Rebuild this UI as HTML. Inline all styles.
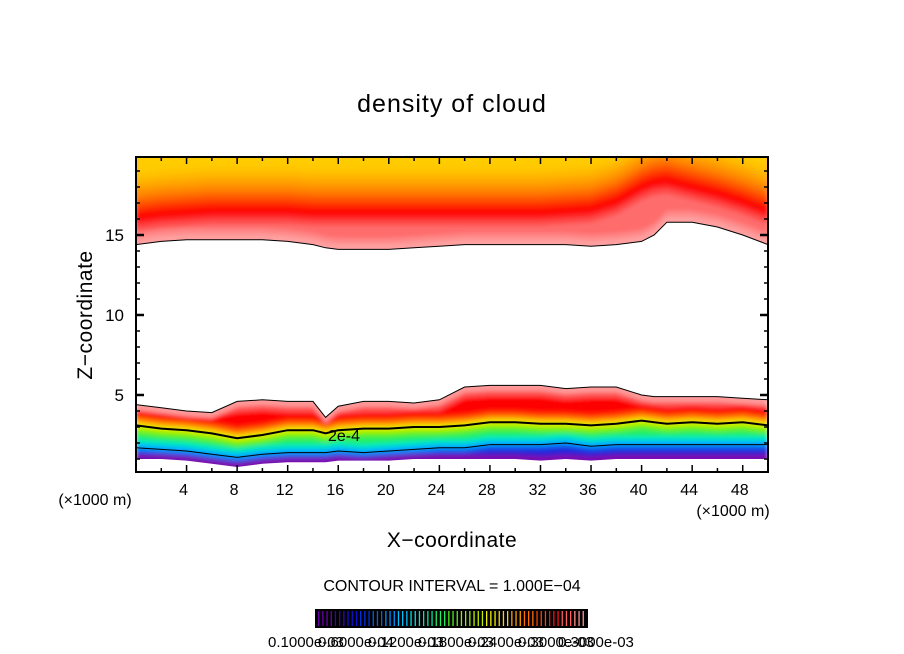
<!DOCTYPE html>
<html><head><meta charset="utf-8"><style>
html,body{margin:0;padding:0;background:#fff}
svg{display:block}
text{font-family:"Liberation Sans",sans-serif;fill:#000}
</style></head><body>
<svg id="chart" width="904" height="654" viewBox="0 0 904 654">
<defs>
<clipPath id="plotclip"><rect x="136" y="157" width="632" height="315"/></clipPath>
<clipPath id="upclip"><polygon id="upclipPoly" points="0,0"/></clipPath>
<clipPath id="lowclip"><polygon id="lowclipPoly" points="0,0"/></clipPath>
<filter id="soft" x="-5%" y="-5%" width="110%" height="110%"><feGaussianBlur stdDeviation="2.2"/></filter>
</defs>
<text x="452" y="112" text-anchor="middle" font-size="25" letter-spacing="1">density of cloud</text>
<g id="field" clip-path="url(#plotclip)"></g>
<g id="lines" clip-path="url(#plotclip)"></g>
<text x="328" y="441" font-size="16">2e-4</text>
<rect x="136" y="157" width="632" height="315" fill="none" stroke="#000" stroke-width="2"/>
<g id="axes"></g>
<text x="95" y="505" text-anchor="middle" font-size="16">(×1000 m)</text>
<text x="733" y="516" text-anchor="middle" font-size="16">(×1000 m)</text>
<text x="452" y="547" text-anchor="middle" font-size="21" letter-spacing="0.5">X−coordinate</text>
<text transform="translate(92,315) rotate(-90)" text-anchor="middle" font-size="21" letter-spacing="0.5">Z−coordinate</text>
<text x="452" y="591" text-anchor="middle" font-size="16">CONTOUR INTERVAL = 1.000E−04</text>
<g id="cbar"></g>
<g>
<text x="268" y="647" font-size="15">0.1000e-03</text>
<text x="318" y="647" font-size="15">0.6000e-04</text>
<text x="368" y="647" font-size="15">0.1200e-03</text>
<text x="418" y="647" font-size="15">0.1800e-03</text>
<text x="468" y="647" font-size="15">0.2400e-03</text>
<text x="518" y="647" font-size="15">0.3000e-03</text>
<text x="558" y="647" font-size="15">0.3000e-03</text>
</g>
</svg>
<script>
// ---- data ----
const xKm = [0,2,4,6,8,10,12,14,15,16,18,20,22,24,26,28,30,32,34,36,38,40,41,42,44,46,48,50];
const upperBase = [14.4,14.6,14.7,14.7,14.7,14.7,14.6,14.4,14.2,14.1,14.1,14.1,14.2,14.3,14.4,14.4,14.4,14.4,14.4,14.3,14.4,14.6,15.0,15.8,15.8,15.5,15.0,14.4];
const upperCore = [16.0,16.2,16.3,16.4,16.4,16.4,16.4,16.3,16.3,16.3,16.3,16.3,16.3,16.3,16.3,16.3,16.3,16.3,16.4,16.5,17.0,17.9,18.2,18.3,17.9,17.5,17.0,16.4];
const lowerTop = [4.4,4.2,4.0,3.9,4.6,4.7,4.6,4.6,3.6,4.3,4.6,4.6,4.5,4.7,5.5,5.6,5.6,5.6,5.4,5.5,5.5,5.0,4.9,4.9,4.9,4.9,4.8,4.7];
const line2e4 = [3.1,2.9,2.8,2.6,2.3,2.5,2.8,2.8,2.6,2.8,2.9,2.9,3.0,3.0,3.1,3.3,3.3,3.2,3.2,3.1,3.2,3.4,3.3,3.2,3.3,3.2,3.3,3.1];
const line1e4 = [1.7,1.6,1.5,1.3,1.1,1.3,1.4,1.4,1.4,1.5,1.4,1.5,1.6,1.7,1.7,1.9,1.9,1.9,2.0,1.8,1.9,1.9,1.9,1.9,1.9,1.9,1.9,1.9];
const lowerBottom = [1.0,1.0,0.9,0.7,0.5,0.7,0.8,0.8,0.8,0.9,0.9,0.9,1.0,1.0,1.0,1.0,1.0,0.9,1.0,0.9,1.0,1.0,1.0,1.0,1.0,1.0,1.0,1.0];
const xTicks = [4,8,12,16,20,24,28,32,36,40,44,48];
const yTicks = [5,10,15];
const cbarColors = ["#6a00a8","#3a00c0","#1010d0","#0030e0","#0060f0","#0090ff","#00c0ff","#00e0e0","#00e8a0","#20f060","#50f020","#90f000","#c0f000","#f0f000","#ffd000","#ffa000","#ff7000","#ff4000","#ff1010","#ff6060","#ff9090"];

// ---- scales ----
const X = k => 136 + 632 * k / 50;
const Y = z => 475 - 16 * z;
const NS = "http://www.w3.org/2000/svg";
const field = document.getElementById('field');
const lines = document.getElementById('lines');
const axes = document.getElementById('axes');
const cbar = document.getElementById('cbar');

function pts(arr, off) { return xKm.map((k,i)=>X(k).toFixed(1)+','+Y(arr[i]+off).toFixed(1)); }
function polyPts(lowerArr, off, upperArr, uoff) {
  const lo = pts(lowerArr, off);
  const up = upperArr ? pts(upperArr, uoff).reverse() : [X(50)+',140', X(0)+',140'];
  return lo.concat(up).join(' ');
}
function band(lowerArr, off, upperArr, uoff, color) {
  const p = document.createElementNS(NS,'polygon');
  p.setAttribute('points', polyPts(lowerArr, off, upperArr, uoff));
  p.setAttribute('fill', color);
  
  
  return p;
}
document.getElementById('upclipPoly').setAttribute('points', polyPts(upperBase,0,null,0));
document.getElementById('lowclipPoly').setAttribute('points', polyPts(lowerBottom,0,lowerTop,0));

// upper cloud layer
const uc = document.createElementNS(NS,'g');
uc.setAttribute('clip-path','url(#upclip)');
field.appendChild(uc);
uc.appendChild(band(upperBase,0,null,0,'#ffa0a0'));
const ug = document.createElementNS(NS,'g');
ug.setAttribute('filter','url(#soft)');
uc.appendChild(ug);
ug.appendChild(band(upperBase,-1,null,0,'#ffa0a0'));
[[0.35,'#ff8888'],[0.7,'#ff6c6c']].forEach(([o,c])=>{
  ug.appendChild(band(upperBase.map((v,i)=>Math.min(v+o,upperCore[i]-0.5)),0,null,0,c));
});
[[-0.7,'#ff4848'],[-0.35,'#ff2020'],[-0.05,'#ff0000'],[0.35,'#ff2c00'],[0.7,'#ff5000'],[1.05,'#ff7000'],[1.4,'#ff8c00'],[1.8,'#ffa400'],[2.2,'#ffb800'],[2.6,'#ffc600'],[3.0,'#ffcc00']].forEach(([o,c])=>{
  ug.appendChild(band(upperCore.map((v,i)=>Math.max(v+o,upperBase[i]+0.3)),0,null,0,c));
});
// lower cloud layer
const lc = document.createElementNS(NS,'g');
lc.setAttribute('clip-path','url(#lowclip)');
field.appendChild(lc);
const lg = document.createElementNS(NS,'g');
lg.setAttribute('filter','url(#soft)');
lc.appendChild(lg);
const lowerBands = [
  [lowerBottom,-1,'#7a10b0'],[lowerBottom,0.3,'#2020d8'],[line1e4,-0.3,'#0060f0'],[line1e4,-0.05,'#00b0ff'],
  [line1e4,0.25,'#00e8c0'],[line1e4,0.55,'#20f060'],[line2e4,-0.5,'#70f000'],[line2e4,-0.2,'#d8f000'],
  [line2e4,0.1,'#ffc000'],[line2e4,0.3,'#ff7000'],[line2e4,0.55,'#ff2000'],[line2e4,0.8,'#ff0000']
];
lowerBands.forEach(([arr,o,c])=>lg.appendChild(band(arr,o,lowerTop,1,c)));
lg.appendChild(band(lowerTop.map((v,i)=>Math.max(v-0.7,line2e4[i]+1.0)),0,lowerTop,1,'#ff5050'));
lg.appendChild(band(lowerTop.map(v=>v-0.35),0,lowerTop,1,'#ff9a9a'));

// contour lines
function line(arr, w) {
  const p = document.createElementNS(NS,'polyline');
  p.setAttribute('points', pts(arr,0).join(' '));
  p.setAttribute('fill','none'); p.setAttribute('stroke','#000'); p.setAttribute('stroke-width',w);
  
  
  lines.appendChild(p);
}
line(upperBase,1); line(lowerTop,1); line(line2e4,2); line(line1e4,1);

// axes ticks
function tick(x1,y1,x2,y2,w){
  const l=document.createElementNS(NS,'line');
  l.setAttribute('x1',x1);l.setAttribute('y1',y1);l.setAttribute('x2',x2);l.setAttribute('y2',y2);
  l.setAttribute('stroke','#000');l.setAttribute('stroke-width',w||1.5);
  
  
  axes.appendChild(l);
}
for(let k=2;k<50;k+=2){const big=k%4===0;const L=big?7:4;tick(X(k),472,X(k),472-L);tick(X(k),157,X(k),157+L);}
for(let z=1;z<20;z++){const big=z%5===0;const L=big?8:4;tick(136,Y(z),136+L,Y(z),big?2.5:1.5);tick(768,Y(z),768-L,Y(z),big?2.5:1.5);}
xTicks.forEach(k=>{
  const t=document.createElementNS(NS,'text');
  t.setAttribute('x',X(k)-3);t.setAttribute('y',495);t.setAttribute('text-anchor','middle');t.setAttribute('font-size','16');
  t.textContent=k;
  
  
  axes.appendChild(t);
});
yTicks.forEach(z=>{
  const t=document.createElementNS(NS,'text');
  t.setAttribute('x',124);t.setAttribute('y',Y(z)+6);t.setAttribute('text-anchor','end');t.setAttribute('font-size','17');
  t.textContent=z;
  
  
  axes.appendChild(t);
});

// colorbar
const bg=document.createElementNS(NS,'rect');
bg.setAttribute('x',315);bg.setAttribute('y',609);bg.setAttribute('width',273);bg.setAttribute('height',19);bg.setAttribute('fill','#000');


cbar.appendChild(bg);
const nLines=64;
for(let i=0;i<nLines;i++){
  const c=cbarColors[Math.floor(i*cbarColors.length/nLines)];
  const r=document.createElementNS(NS,'rect');
  r.setAttribute('x',(318+i*4.2).toFixed(1));r.setAttribute('y',611);r.setAttribute('width',1.3);r.setAttribute('height',15);r.setAttribute('fill',c);
  
  
  cbar.appendChild(r);
}
</script>
</body></html>
